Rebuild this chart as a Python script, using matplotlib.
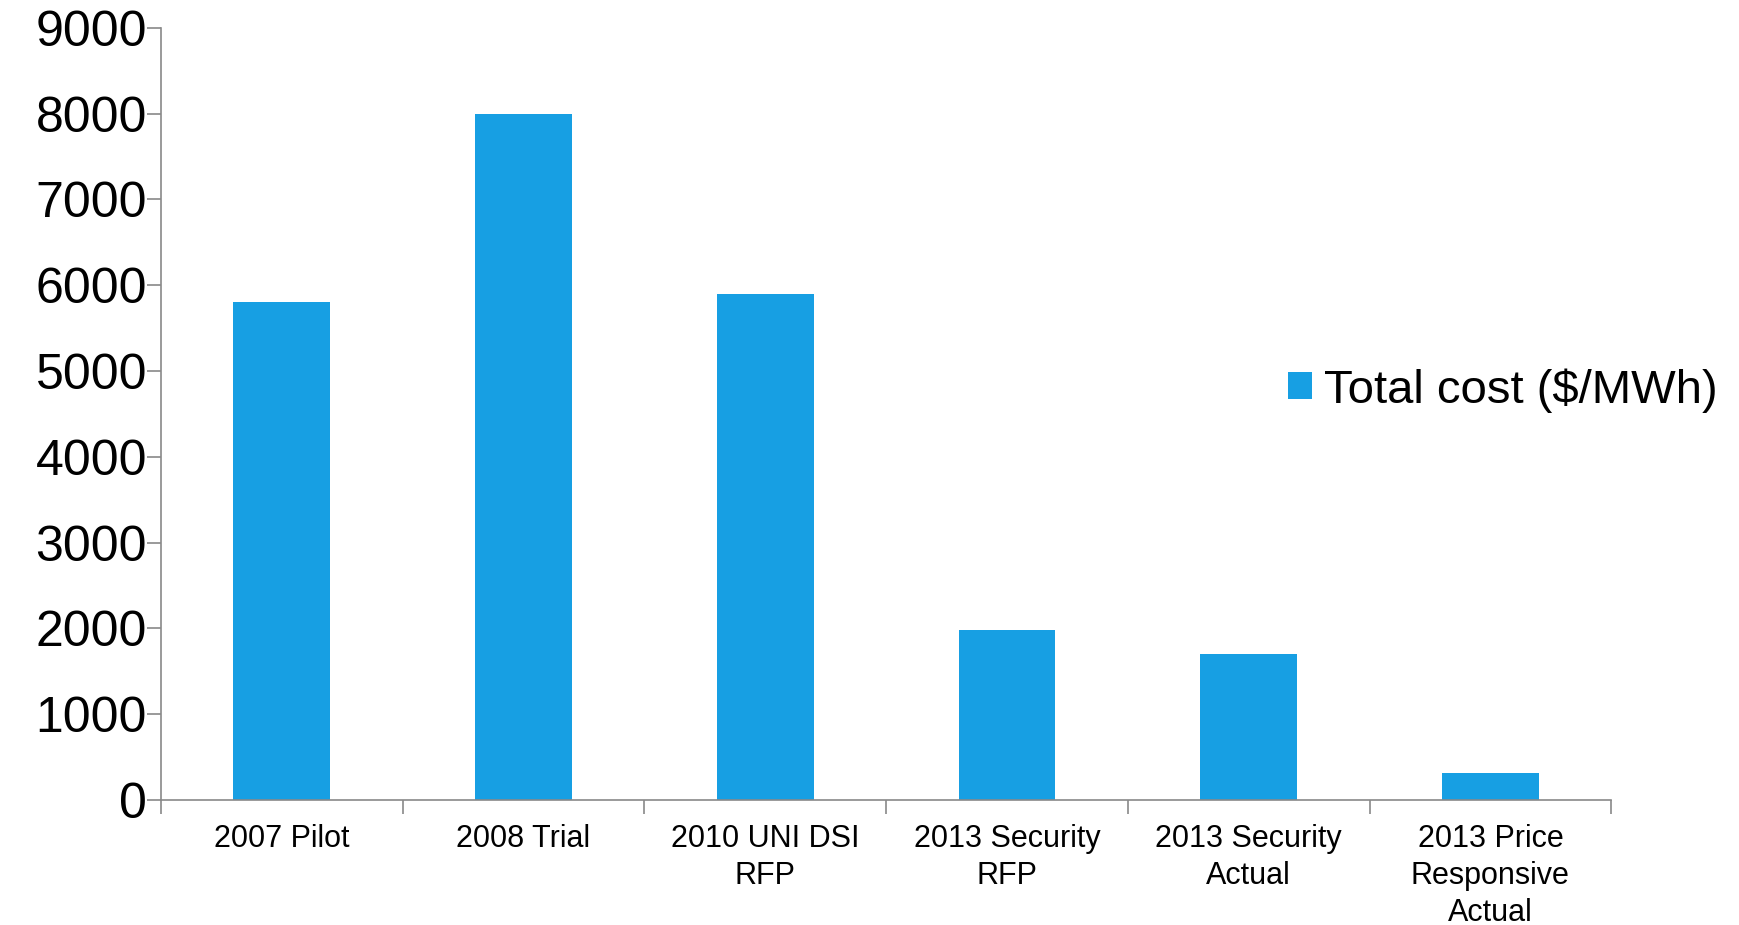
import matplotlib
matplotlib.use("Agg")
import matplotlib.pyplot as plt
import numpy as np

# --- data ---
categories = ["2007 Pilot", "2008 Trial", "2010 UNI DSI\nRFP", "2013 Security\nRFP",
              "2013 Security\nActual", "2013 Price\nResponsive\nActual"]
total_cost = [5800, 8000, 5900, 1980, 1700, 320]
series_name = "Total cost ($/MWh)"

BAR_COLOR = "#179fe3"
AXIS_COLOR = "#898989"

plt.rcParams["font.family"] = ["Liberation Sans", "DejaVu Sans"]

fig = plt.figure(figsize=(17.4, 9.25), dpi=100)
ax = fig.add_axes([0.0925, 0.135, 0.8335, 0.835])

x = np.arange(len(categories))
ax.bar(x, total_cost, width=0.4, color=BAR_COLOR, label=series_name)

ax.set_xlim(-0.5, len(categories) - 0.5)
ax.set_ylim(0, 9000)
ax.set_yticks(np.arange(0, 9001, 1000))
ax.tick_params(axis="y", labelsize=36, length=10, width=1.2, color=AXIS_COLOR, pad=0)

ax.set_xticks(x)
ax.set_xticklabels(categories, fontsize=22, linespacing=1.3, va="top")
ax.set_xticks(np.arange(-0.5, len(categories), 1), minor=True)
ax.tick_params(axis="x", which="major", length=0, pad=17)
ax.tick_params(axis="x", which="minor", length=10, width=1.2, color=AXIS_COLOR)

for side in ["top", "right"]:
    ax.spines[side].set_visible(False)
for side in ["left", "bottom"]:
    ax.spines[side].set_color(AXIS_COLOR)
    ax.spines[side].set_linewidth(1.2)

fig.legend(loc="center left", bbox_to_anchor=(0.716, 0.578), frameon=False,
           fontsize=34, handlelength=0.5, handleheight=0.5, handletextpad=0.25)

fig.savefig("out.png", dpi=100)
